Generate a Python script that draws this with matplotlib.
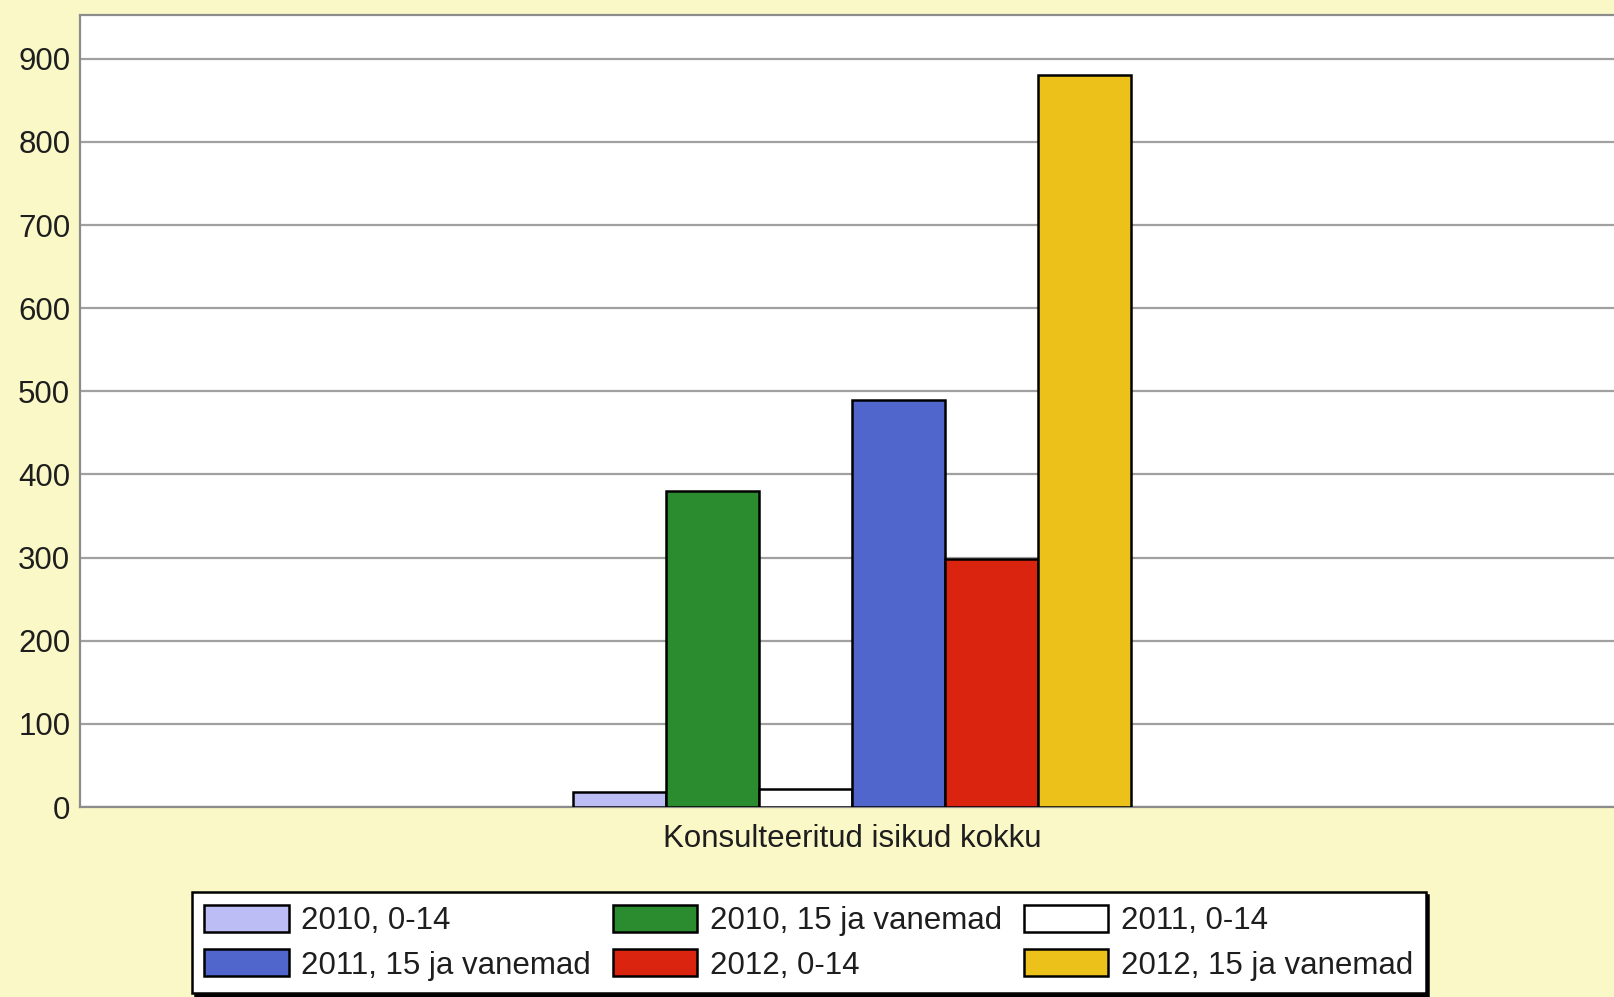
import matplotlib
matplotlib.use("Agg")
import matplotlib.pyplot as plt
import numpy as np

category = "Konsulteeritud isikud kokku"
series_labels = ["2010, 0-14", "2010, 15 ja vanemad", "2011, 0-14",
                 "2011, 15 ja vanemad", "2012, 0-14", "2012, 15 ja vanemad"]
values = [18, 380, 22, 490, 298, 880]
colors = ["#BDBDF5", "#2A8C2E", "#FFFFFF", "#5066CC", "#DA2410", "#ECC21A"]
yticks = [0, 100, 200, 300, 400, 500, 600, 700, 800, 900]

plt.rcParams['font.family'] = ['Liberation Sans', 'DejaVu Sans']
W, H = 1615, 997
fig = plt.figure(figsize=(W / 100, H / 100), dpi=100)
bg = "#FAF8C6"
fig.patch.set_facecolor(bg)

left, right, top, bottom = 80, 1615, 15.5, 807
ax = fig.add_axes([left / W, (H - bottom) / H, (right - left) / W, (bottom - top) / H])
ax.set_facecolor("white")

n = len(values)
xs = np.arange(n) - (n - 1) / 2
handles = []
for x, v, c, lab in zip(xs, values, colors, series_labels):
    b = ax.bar(x, v, width=1.0, color=c, edgecolor="black", linewidth=1.8,
               label=lab, zorder=3)
    handles.append(b)

ax.set_ylim(0, 952)
ax.set_xlim(-8.3, 8.2)
ax.set_yticks(yticks)
ax.set_yticklabels([str(t) for t in yticks])
ax.set_xticks([0])
ax.set_xticklabels([category])
ax.tick_params(axis='both', length=0, labelsize=22.5, colors="#1E1E1E")
ax.tick_params(axis='y', pad=7)
ax.tick_params(axis='x', pad=12)
ax.yaxis.grid(True, color="#A0A0A0", linewidth=1.6, zorder=1)
ax.set_axisbelow(True)
for s in ["left", "top", "bottom"]:
    ax.spines[s].set_color("#8C8C8C")
    ax.spines[s].set_linewidth(1.6)
ax.spines["right"].set_visible(False)

order = [0, 3, 1, 4, 2, 5]
leg = fig.legend([handles[i] for i in order], [series_labels[i] for i in order],
                 ncol=3, loc="lower left",
                 bbox_to_anchor=(192 / W, (H - 993) / H),
                 fontsize=22.5, frameon=True, fancybox=False,
                 shadow={'color': 'black', 'alpha': 1.0},
                 edgecolor="black", facecolor="white", framealpha=1.0,
                 handlelength=2.7, handleheight=0.96, handletextpad=0.4,
                 columnspacing=0.7, labelspacing=0.42, borderpad=0.4,
                 borderaxespad=0)
leg.get_frame().set_linewidth(1.8)
for t in leg.get_texts():
    t.set_color("#1E1E1E")

fig.savefig("out.png", dpi=100, facecolor=bg)
